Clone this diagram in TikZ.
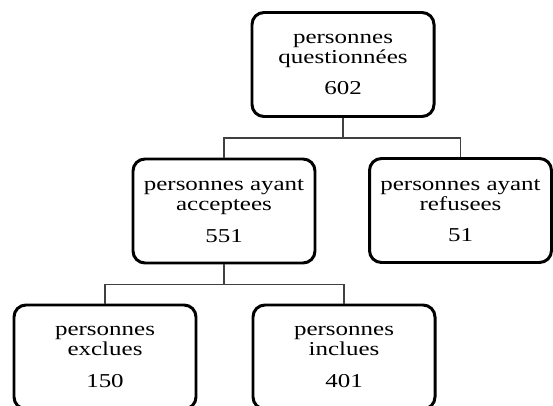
\documentclass[tikz,border=0pt]{standalone}
\usepackage{fontspec}
\setmainfont{Liberation Serif}[FakeStretch=1.27]
\usepackage{tikz}
\usetikzlibrary{backgrounds}
\tikzset{mybox/.style={draw, rounded corners=0.24cm, line width=1.7pt, minimum width=3.64cm, minimum height=2.08cm, align=center, font=\fontsize{11.2}{11.4}\selectfont, inner sep=0pt, execute at begin node=\rule{0pt}{11.5pt}}}
\tikzset{myline/.style={draw=black!75, line width=0.6pt}}

\begin{document}
\begin{tikzpicture}
    \useasboundingbox (0, 0) rectangle (11.06, -8.12);
    \clip (0, 0) rectangle (11.06, -8.12);
    \node[mybox] (Q) at (6.86, -1.29)  {personnes\\questionnées\\[6.5pt]602};
    \node[mybox] (A) at (4.48, -4.22)  {personnes ayant\\acceptees\\[6.5pt]551};
    \node[mybox] (R) at (9.21, -4.21)  {personnes ayant\\refusees\\[6.5pt]51};
    \node[mybox] (E) at (2.10, -7.14)  {personnes\\exclues\\[6.5pt]150};
    \node[mybox] (I) at (6.88, -7.14)  {personnes\\inclues\\[6.5pt]401};
    
    \draw[myline] (Q.south) -- ++(0, -0.4) -| (A.north);
    \draw[myline] (Q.south) -- ++(0, -0.4) -| (R.north);
    \draw[myline] (A.south) -- ++(0, -0.4) -| (E.north);
    \draw[myline] (A.south) -- ++(0, -0.4) -| (I.north);
    
\end{tikzpicture}
\end{document}
